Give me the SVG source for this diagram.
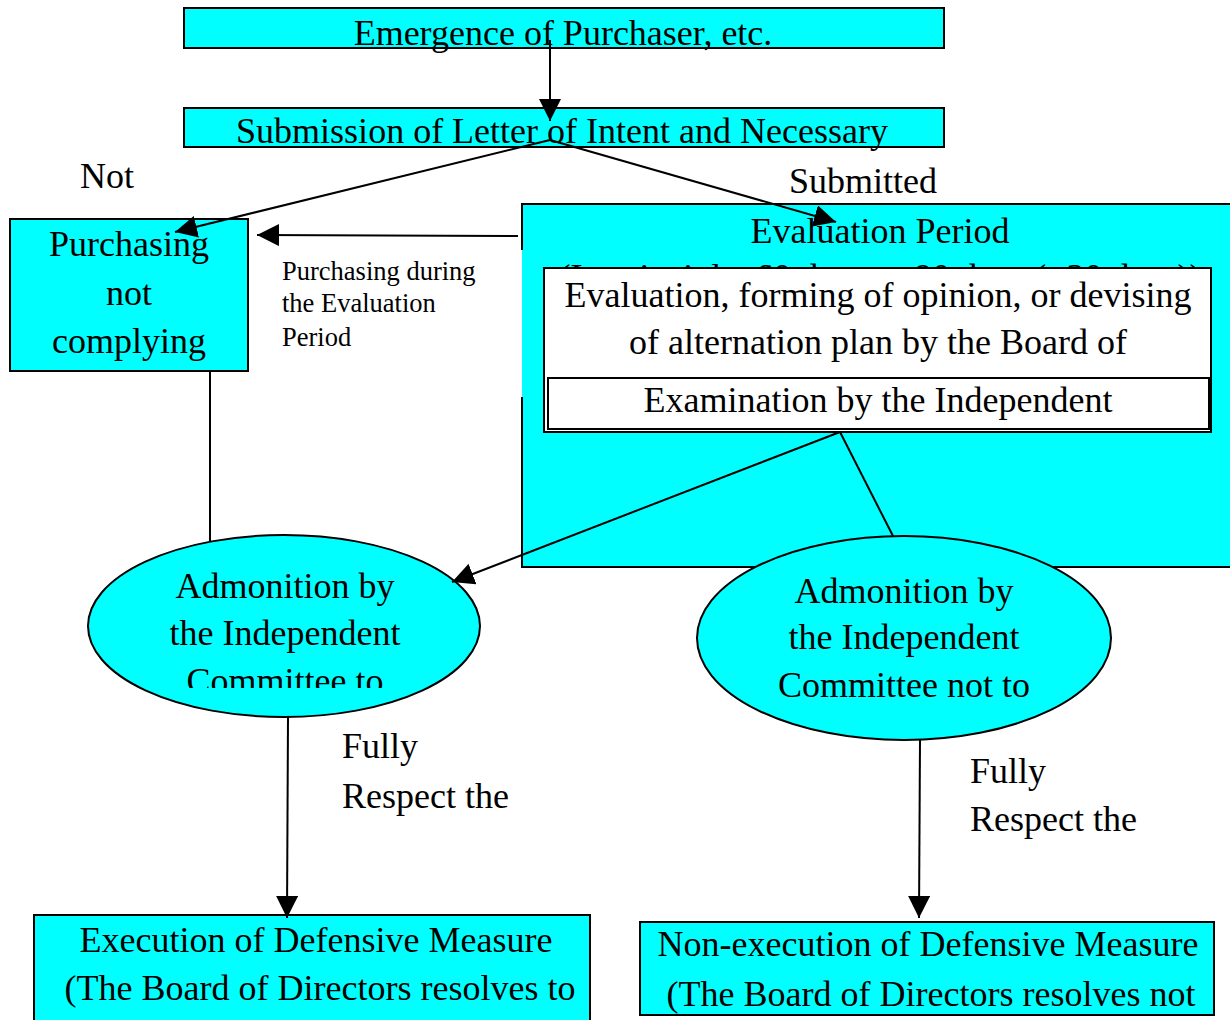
<svg xmlns="http://www.w3.org/2000/svg" width="1230" height="1020" viewBox="0 0 1230 1020">
<style>
  .box { fill: #00ffff; stroke: #000; stroke-width: 2; }
  .wbox { fill: #ffffff; stroke: #000; stroke-width: 2; }
  .t { font-family: "Liberation Serif", "Times New Roman", serif; fill: #000; }
  .big { font-size: 36px; }
  .small { font-size: 26.5px; }
  .c { text-anchor: middle; }
  .line { fill: none; stroke: #000; stroke-width: 2; }
</style>
<defs>
  <marker id="arr" markerUnits="userSpaceOnUse" markerWidth="22" markerHeight="22" viewBox="0 0 20 20" refX="20" refY="10" orient="auto">
    <path d="M0,0 L20,10 L0,20 z" fill="#000"/>
  </marker>
  <clipPath id="clipAdm">
    <rect x="80" y="530" width="410" height="158"/>
  </clipPath>
  <clipPath id="clipPeriod">
    <rect x="530" y="250" width="700" height="18"/>
  </clipPath>
</defs>
<rect width="1230" height="1020" fill="#fff"/>

<g id="evaluation-period">
  <rect x="522" y="204" width="710" height="363" fill="#00ffff"/>
  <path class="line" d="M522,250 L522,204 L1232,204 M522,397 L522,567 L1232,567"/>
  <text class="t big c" x="880" y="243">Evaluation Period</text>
  <g clip-path="url(#clipPeriod)">
    <text class="t big c" x="880" y="289">(In principle, 60 days or 90 days (+30 days))</text>
  </g>
</g>

<g id="board-evaluation">
  <rect class="wbox" x="544" y="268" width="667" height="164"/>
  <text class="t big c" x="878" y="307">Evaluation, forming of opinion, or devising</text>
  <text class="t big c" x="878" y="354">of alternation plan by the Board of</text>
</g>

<g id="committee-exam">
  <rect class="wbox" x="548" y="378" width="661" height="51"/>
  <text class="t big c" x="878" y="412">Examination by the Independent</text>
</g>

<g id="emergence">
  <rect class="box" x="184" y="8" width="760" height="40"/>
  <text class="t big c" x="563" y="45">Emergence of Purchaser, etc.</text>
</g>

<g id="submission">
  <rect class="box" x="184" y="108" width="760" height="39"/>
  <text class="t big c" x="562" y="143">Submission of Letter of Intent and Necessary</text>
</g>

<g id="not-complying">
  <rect class="box" x="10" y="219" width="238" height="152"/>
  <text class="t big c" x="129" y="256">Purchasing</text>
  <text class="t big c" x="129" y="305">not</text>
  <text class="t big c" x="129" y="353">complying</text>
</g>

<g id="admonition-to">
  <ellipse class="box" cx="284" cy="626" rx="196" ry="91"/>
  <g clip-path="url(#clipAdm)">
    <text class="t big c" x="285" y="598">Admonition by</text>
    <text class="t big c" x="285" y="645">the Independent</text>
    <text class="t big c" x="285" y="693">Committee to</text>
  </g>
</g>

<g id="admonition-not-to">
  <ellipse class="box" cx="904" cy="638" rx="207" ry="102"/>
  <text class="t big c" x="904" y="603">Admonition by</text>
  <text class="t big c" x="904" y="649">the Independent</text>
  <text class="t big c" x="904" y="697">Committee not to</text>
</g>

<g id="execution">
  <rect class="box" x="34" y="915" width="556" height="110"/>
  <text class="t big c" x="316" y="952">Execution of Defensive Measure</text>
  <text class="t big c" x="320" y="1000">(The Board of Directors resolves to</text>
</g>

<g id="non-execution">
  <rect class="box" x="640" y="922" width="574" height="93"/>
  <text class="t big c" x="928" y="956">Non-execution of Defensive Measure</text>
  <text class="t big c" x="931" y="1006">(The Board of Directors resolves not</text>
</g>

<g id="connectors">
  <line class="line" x1="550" y1="40" x2="550" y2="121" marker-end="url(#arr)"/>
  <line class="line" x1="550" y1="140" x2="175" y2="232" marker-end="url(#arr)"/>
  <line class="line" x1="550" y1="140" x2="836" y2="222" marker-end="url(#arr)"/>
  <line class="line" x1="518" y1="236" x2="257" y2="235" marker-end="url(#arr)"/>
  <line class="line" x1="210" y1="371" x2="210" y2="541"/>
  <line class="line" x1="840" y1="432" x2="452" y2="582" marker-end="url(#arr)"/>
  <line class="line" x1="840" y1="432" x2="893" y2="536"/>
  <line class="line" x1="288" y1="717" x2="287" y2="918" marker-end="url(#arr)"/>
  <line class="line" x1="920" y1="740" x2="919" y2="918" marker-end="url(#arr)"/>
</g>

<g id="labels">
  <text class="t big" x="80" y="188">Not</text>
  <text class="t big" x="789" y="193">Submitted</text>
  <text class="t small" x="282" y="280">Purchasing during</text>
  <text class="t small" x="282" y="312">the Evaluation</text>
  <text class="t small" x="282" y="346">Period</text>
  <text class="t big" x="342" y="758">Fully</text>
  <text class="t big" x="342" y="808">Respect the</text>
  <text class="t big" x="970" y="783">Fully</text>
  <text class="t big" x="970" y="831">Respect the</text>
</g>
</svg>
